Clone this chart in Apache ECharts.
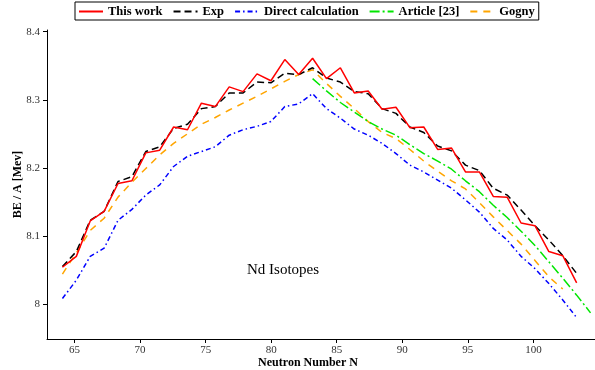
<!DOCTYPE html>
<html lang="en">
  <head>
    <meta charset="UTF-8" />
    <title>Nd Isotopes BE/A</title>
    <script src="https://cdn.jsdelivr.net/npm/echarts@6.0.0/dist/echarts.min.js"></script>
    <style>
      body {
        margin: 0;
        background: #fff;
      }
      #container {
        width: 595px;
        height: 370px;
      }
    </style>
  </head>
  <body>
    <div id="container"></div>
    <script>
      // neutron numbers of the computed chain
      const neutrons = [64, 65, 66, 67, 68, 69, 70, 71, 72, 73, 74, 75, 76, 77, 78, 79, 80, 81, 82,
        83, 84, 85, 86, 87, 88, 89, 90, 91, 92, 93, 94, 95, 96, 97, 98, 99, 100, 101];
      const thisWork = [8.054, 8.070, 8.122, 8.136, 8.177, 8.181, 8.222, 8.226, 8.260, 8.256,
        8.295, 8.290, 8.319, 8.312, 8.338, 8.328, 8.359, 8.337, 8.361, 8.331, 8.347, 8.310,
        8.313, 8.286, 8.289, 8.259, 8.260, 8.227, 8.229, 8.194, 8.194, 8.158, 8.157, 8.119,
        8.115, 8.077, 8.071, 8.031];
      const expValues = [8.055, 8.077, 8.123, 8.136, 8.180, 8.187, 8.224, 8.231, 8.258, 8.264,
        8.287, 8.290, 8.310, 8.310, 8.326, 8.325, 8.339, 8.337, 8.347, 8.332, 8.326, 8.312,
        8.309, 8.287, 8.280, 8.260, 8.252, 8.232, 8.225, 8.204, 8.196, 8.170, 8.160, 8.138,
        8.115, 8.094, 8.071, 8.045];
      const direct = [8.008, 8.035, 8.070, 8.082, 8.123, 8.139, 8.160, 8.175, 8.202, 8.217,
        8.224, 8.231, 8.248, 8.256, 8.261, 8.268, 8.290, 8.294, 8.309, 8.287, 8.273, 8.257,
        8.248, 8.236, 8.221, 8.204, 8.194, 8.182, 8.170, 8.153, 8.135, 8.111, 8.094, 8.070,
        8.052, 8.030, 8.006, 7.980];

      const articleN = [82, 83, 84, 85, 86, 87, 88, 89, 90, 91, 92, 93, 94, 95, 96, 97, 98, 99,
        100, 101, 102];
      const article = [8.331, 8.313, 8.296, 8.282, 8.268, 8.257, 8.248, 8.234, 8.221, 8.210,
        8.198, 8.181, 8.165, 8.145, 8.127, 8.107, 8.086, 8.062, 8.038, 8.013, 7.987];

      const gognyN = [64, 65, 66, 67, 68, 69, 70, 71, 72, 73, 74, 75, 76, 77, 78, 79, 80, 81, 82,
        83, 84, 85, 86, 87, 88, 89, 90, 91, 92, 93, 94, 95, 96, 97, 98, 99, 100];
      const gogny = [8.044, 8.075, 8.108, 8.126, 8.157, 8.179, 8.199, 8.219, 8.236, 8.250,
        8.264, 8.274, 8.285, 8.295, 8.305, 8.316, 8.327, 8.337, 8.344, 8.324, 8.305, 8.287,
        8.268, 8.252, 8.243, 8.227, 8.210, 8.195, 8.181, 8.169, 8.149, 8.128, 8.108, 8.088,
        8.064, 8.040, 8.022];

      const xTicks = [65, 70, 75, 80, 85, 90, 95, 100];
      const yTicks = [8, 8.1, 8.2, 8.3, 8.4];

      const legendNames = ["This work", "Exp", "Direct calculation", "Article [23]", "Gogny"];

      const serif = "Liberation Serif";

      function pairs(xs, ys) {
        return xs.map((x, i) => [x, ys[i]]);
      }

      function lineSeries(name, xs, ys, color, type) {
        return {
          name: name,
          type: "line",
          xAxisIndex: 1,
          symbol: "none",
          smooth: false,
          data: pairs(xs, ys),
          lineStyle: { color: color, width: 1.5, type: type },
          itemStyle: { color: color },
        };
      }

      window.onload = function () {
        var dom = document.getElementById("container");
        var chart = echarts.init(dom, null, { renderer: "canvas" });

        var option = {
          animation: false,
          backgroundColor: "#fff",
          textStyle: { fontFamily: serif },
          legend: {
            data: legendNames,
            left: 75,
            top: 2,
            padding: [3, 4, 2, 3],
            itemWidth: 24,
            itemHeight: 12,
            itemGap: 10,
            borderColor: "#000",
            borderWidth: 1,
            // only the line in the key, no marker
            itemStyle: { opacity: 0 },
            textStyle: {
              fontFamily: serif,
              fontWeight: "bold",
              fontSize: 12.5,
              color: "#000",
            },
          },
          grid: {
            left: 47,
            right: 0,
            top: 30,
            bottom: 31,
            outerBoundsMode: "none",
          },
          xAxis: [
            {
              type: "value",
              min: 62.9,
              max: 104.7,
              name: "Neutron Number N",
              nameLocation: "middle",
              nameGap: 18,
              nameMoveOverlap: false,
              nameTextStyle: {
                fontFamily: serif,
                fontWeight: "bold",
                fontSize: 12,
                color: "#000",
                padding: [0, 26, 0, 0],
              },
              axisLine: { show: true, onZero: false, lineStyle: { color: "#000", width: 1 } },
              axisTick: { show: true, length: 4, customValues: xTicks, lineStyle: { color: "#000" } },
              axisLabel: {
                customValues: xTicks,
                margin: 6,
                fontFamily: serif,
                fontSize: 11,
                color: "#333",
              },
              splitLine: { show: false },
            },
            {
              // data axis, scaled as the points sit in the picture
              type: "value",
              show: false,
              min: 62.89,
              max: 102.32,
              splitLine: { show: false },
            },
          ],
          yAxis: {
            type: "value",
            min: 7.9486,
            max: 8.4025,
            name: "BE / A [Mev]",
            nameLocation: "middle",
            nameGap: 23,
            nameMoveOverlap: false,
            nameRotate: 90,
            nameTextStyle: {
              fontFamily: serif,
              fontWeight: "bold",
              fontSize: 12,
              color: "#000",
            },
            axisLine: { show: true, onZero: false, lineStyle: { color: "#000", width: 1 } },
            axisTick: { show: true, length: 4, customValues: yTicks, lineStyle: { color: "#000" } },
            axisLabel: {
              customValues: yTicks,
              margin: 7,
              fontFamily: serif,
              fontSize: 11,
              color: "#333",
            },
            splitLine: { show: false },
          },
          graphic: [
            {
              type: "text",
              x: 247,
              y: 270,
              style: {
                text: "Nd Isotopes",
                font: '15px "Liberation Serif"',
                fill: "#000",
                verticalAlign: "middle",
              },
            },
          ],
          series: [
            lineSeries("Gogny", gognyN, gogny, "#ffa500", [7, 6]),
            lineSeries("Article [23]", articleN, article, "#00e600", [10, 3, 2, 3]),
            lineSeries("Direct calculation", neutrons, direct, "#0000ff", [5, 3, 1.5, 3]),
            lineSeries("Exp", neutrons, expValues, "#000000", [7, 4]),
            lineSeries("This work", neutrons, thisWork, "#ff0000", "solid"),
          ],
        };

        chart.setOption(option);
      };
    </script>
  </body>
</html>
